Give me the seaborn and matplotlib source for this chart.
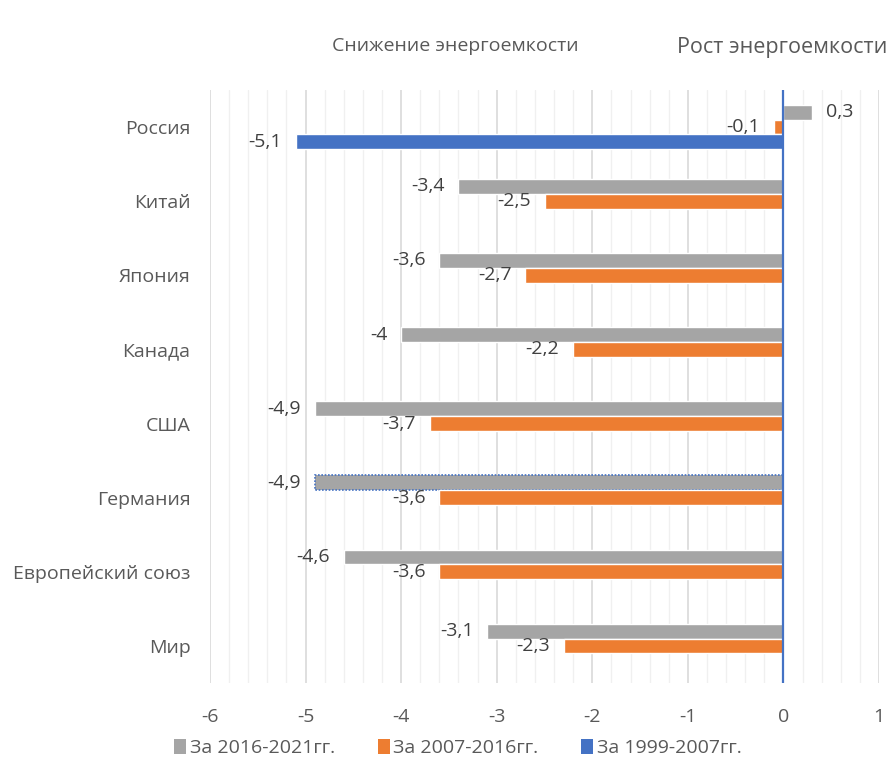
import matplotlib
matplotlib.use("Agg")
import matplotlib.pyplot as plt
from matplotlib.ticker import MultipleLocator
from matplotlib.patches import Patch
import numpy as np
import pandas as pd
import seaborn as sns

countries = ["Россия", "Китай", "Япония", "Канада", "США", "Германия",
             "Европейский союз", "Мир"]
periods = ["За 2016-2021гг.", "За 2007-2016гг.", "За 1999-2007гг."]
v_2016_2021 = [0.3, -3.4, -3.6, -4.0, -4.9, -4.9, -4.6, -3.1]
v_2007_2016 = [-0.1, -2.5, -2.7, -2.2, -3.7, -3.6, -3.6, -2.3]
v_1999_2007 = [-5.1, None, None, None, None, None, None, None]
x_ticks = [-6, -5, -4, -3, -2, -1, 0, 1]
colors = ["#A5A5A5", "#ED7D31", "#4472C4"]
TEXT = "#595959"
FONT = "Open Sans"
FS = 14

rows = []
for series, vals in zip(periods, [v_2016_2021, v_2007_2016, v_1999_2007]):
    for c, v in zip(countries, vals):
        if v is not None:
            rows.append({"country": c, "period": series, "value": v})
df = pd.DataFrame(rows)

sns.set_theme(style="white")
plt.rcParams["font.family"] = [FONT, "DejaVu Sans"]

fig = plt.figure(figsize=(8.93, 7.83), dpi=100)
ax = fig.add_axes([210 / 893, 1 - 683 / 783, 669 / 893, 593 / 783])

sns.barplot(data=df, y="country", x="value", hue="period", order=countries,
            hue_order=periods, palette=colors, orient="h", width=0.6,
            dodge=True, errorbar=None, legend=False, saturation=1, ax=ax)

ax.set_xlim(-6, 1)
ax.set_ylim(len(countries) - 0.5, -0.5)
ax.set_xticks(x_ticks)
ax.set_xticklabels([str(t) for t in x_ticks])
ax.xaxis.set_minor_locator(MultipleLocator(0.2))
ax.grid(axis="x", which="minor", color="#F0F0F0", lw=1.0)
ax.grid(axis="x", which="major", color="#D9D9D9", lw=1.2)
ax.set_axisbelow(True)
for s in ax.spines.values():
    s.set_visible(False)
ax.axvline(0, color="#4472C4", lw=1.6, zorder=5)
ax.set_xlabel("")
ax.set_ylabel("")
ax.tick_params(axis="both", which="both", length=0, labelsize=FS, colors=TEXT)
ax.tick_params(axis="x", pad=18)
ax.tick_params(axis="y", pad=14)

for cont in ax.containers:
    labels = [f"{b.get_width():g}".replace(".", ",") for b in cont]
    ax.bar_label(cont, labels=labels, padding=10, fontsize=FS, color="#404040")

# dotted outline on the Germany 2016-2021 bar
germ_y = countries.index("Германия")
for b in ax.containers[0]:
    if abs(b.get_y() + b.get_height() / 2 - (germ_y - 0.2)) < 0.05:
        b.set_edgecolor("#4472C4")
        b.set_linestyle((0, (1, 1)))
        b.set_linewidth(1.2)

fig.text(455 / 893, 1 - 46 / 783, "Снижение энергоемкости", ha="center",
         va="center", fontsize=14, color=TEXT)
fig.text(677 / 893, 1 - 48 / 783, "Рост энергоемкости", ha="left",
         va="center", fontsize=15.5, color=TEXT)

handles = [Patch(facecolor=c, edgecolor="none") for c in colors]
fig.legend(handles, periods, loc="center", ncol=3, frameon=False,
           bbox_to_anchor=(458 / 893, 1 - 748 / 783), fontsize=FS,
           labelcolor=TEXT, handlelength=0.6, handleheight=0.8,
           handletextpad=0.2, columnspacing=2.2)

fig.savefig("out.png", dpi=100, facecolor="white")
